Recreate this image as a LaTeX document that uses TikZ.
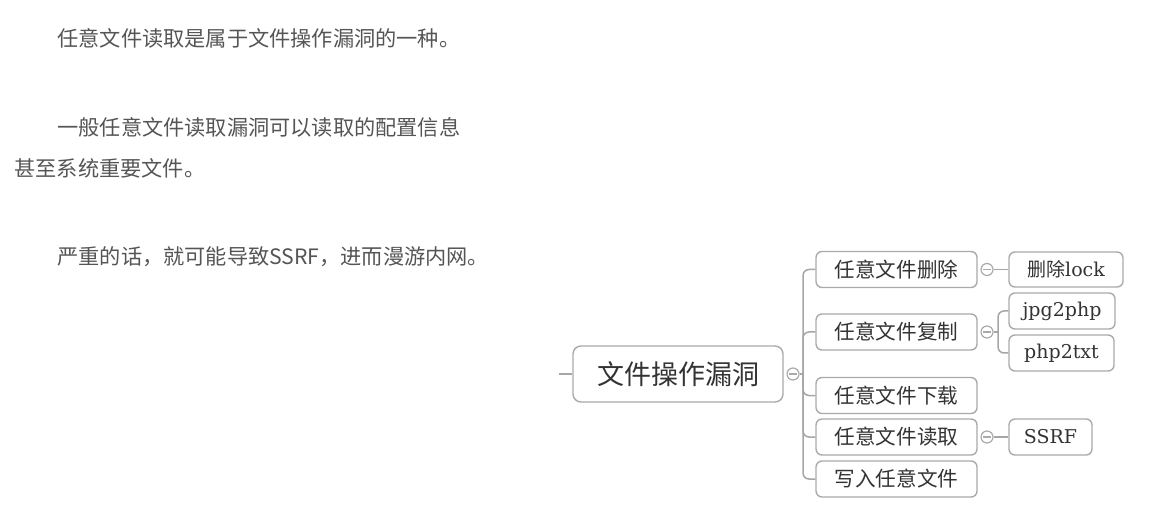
\documentclass[tikz,border=0pt]{standalone}
\usepackage{fontspec}
\setmainfont{Noto Sans CJK SC}
\newfontfamily\serifen{DejaVu Serif}
\usepackage{tikz}
\usetikzlibrary{calc}
\definecolor{txtgray}{HTML}{555555}
\definecolor{boxgray}{HTML}{AAAAAA}
\definecolor{linegray}{HTML}{A6A6A6}
\definecolor{nodetxt}{HTML}{333333}

\begin{document}
\begin{tikzpicture}[x=0.5pt,y=-0.5pt,
    para/.style={anchor=west,inner sep=0pt,text=txtgray,font=\fontsize{10.6pt}{12pt}\selectfont},
    topic/.style={draw=boxgray,line width=0.7pt,rounded corners=3pt,fill=white,text=nodetxt,
      inner sep=0pt,minimum width=80.5pt,minimum height=18pt,font=\fontsize{10.3pt}{12pt}\selectfont},
    leaf/.style={topic,font=\fontsize{9.5pt}{11pt}\selectfont},
    fold/.style={circle,draw=boxgray,fill=white,line width=0.6pt,minimum size=6pt,inner sep=0pt,
      path picture={\draw[boxgray,line width=0.6pt]
        ([xshift=-1.8pt]path picture bounding box.center) -- ([xshift=1.8pt]path picture bounding box.center);}},
    link/.style={draw=linegray,line width=0.75pt,rounded corners=3pt}]
  \useasboundingbox (0,0) rectangle (1154,512);
  % paragraph text
  \node[para] (p1) at (57,38) {任意文件读取是属于文件操作漏洞的一种。};
  \node[para] (p2) at (57,127) {一般任意文件读取漏洞可以读取的配置信息};
  \node[para] (p3) at (14,168) {甚至系统重要文件。};
  \node[para] (p4) at (57,257) {严重的话，就可能导致SSRF，进而漫游内网。};
  % root
  \node[topic,minimum width=105pt,minimum height=28pt,rounded corners=4pt,
    font=\fontsize{13.5pt}{16pt}\selectfont] (root) at (678,374) {文件操作漏洞};
  \coordinate (stub) at (559,374);
  \node[fold] (f0) at (793,374) {};
  \coordinate (t0) at (803,374);
  \draw[link] (stub) -- (root.west);
  \draw[link] (f0) -- (t0);
  % children
  \node[topic] (c1) at (896.5,269.5) {任意文件删除};
  \node[topic] (c2) at (896.5,332) {任意文件复制};
  \node[topic] (c3) at (896.5,395.5) {任意文件下载};
  \node[topic] (c4) at (896.5,437) {任意文件读取};
  \node[topic] (c5) at (896.5,479) {写入任意文件};
  \foreach \c in {c1,c2,c3,c4,c5}
    \draw[link] (t0) |- (\c.west);
  % leaves
  \node[leaf,minimum width=57pt,minimum height=17.5pt] (g1) at (1066,269.5) {删除{\serifen lock}};
  \node[leaf,minimum width=53pt] (g2a) at (1062,311) {\serifen jpg2php};
  \node[leaf,minimum width=52.5pt] (g2b) at (1061.5,353) {\serifen php2txt};
  \node[leaf,minimum width=41.5pt] (g4) at (1050.5,437) {\serifen SSRF};
  \node[fold] (f1) at (987,269.5) {};
  \node[fold] (f2) at (987,332) {};
  \node[fold] (f4) at (987,437) {};
  \coordinate (t2) at (998,332);
  \draw[link] (f1) -- (g1.west);
  \draw[link] (f2) -- (t2);
  \draw[link] (t2) |- (g2a.west);
  \draw[link] (t2) |- (g2b.west);
  \draw[link] (f4) -- (g4.west);
\end{tikzpicture}
\end{document}
